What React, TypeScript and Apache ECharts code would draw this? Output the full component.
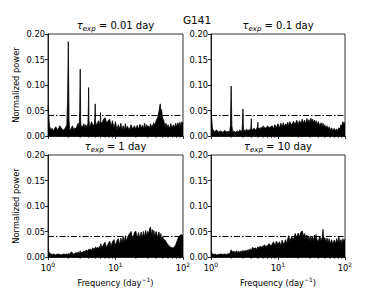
import React, { useEffect, useRef } from "react";
import * as echarts from "echarts";

// Frequency grid (day^-1)
const FREQ = [
  1, 1.05, 1.1, 1.15, 1.2, 1.3, 1.4, 1.5, 1.6, 1.7,
  1.8, 1.9, 1.95, 2, 2.05, 2.1, 2.2, 2.3, 2.4, 2.5,
  2.6, 2.7, 2.8, 2.9, 2.95, 3, 3.05, 3.1, 3.2, 3.3,
  3.4, 3.5, 3.6, 3.7, 3.8, 3.9, 3.95, 4, 4.05, 4.1,
  4.2, 4.4, 4.6, 4.8, 4.95, 5, 5.05, 5.2, 5.4, 5.6,
  5.8, 5.95, 6, 6.05, 6.3, 6.6, 7, 7.4, 7.8, 8.2,
  8.6, 9, 9.5, 10, 10.5, 11, 11.5, 12, 12.5, 13,
  13.5, 14, 14.5, 15, 16, 17, 18, 19, 20, 21,
  22, 23, 24, 25, 26, 27, 28, 29, 30, 31,
  32, 33, 34, 35, 36, 37, 38, 40, 42, 44,
  46, 47, 48, 50, 52, 54, 56, 58, 60, 63,
  66, 69, 72, 75, 78, 81, 84, 87, 90, 93,
  96, 100,
];

// tau_exp = 0.01 day
const P_001 = [
  0.06, 0.02, 0.012, 0.015, 0.01, 0.018, 0.012, 0.02, 0.014, 0.012,
  0.015, 0.022, 0.07, 0.185, 0.03, 0.012, 0.014, 0.02, 0.012, 0.016,
  0.014, 0.02, 0.025, 0.018, 0.05, 0.131, 0.03, 0.015, 0.02, 0.018,
  0.024, 0.016, 0.022, 0.02, 0.018, 0.025, 0.045, 0.095, 0.03, 0.02,
  0.018, 0.028, 0.022, 0.02, 0.035, 0.063, 0.03, 0.02, 0.025, 0.03,
  0.022, 0.03, 0.046, 0.028, 0.025, 0.032, 0.036, 0.025, 0.03, 0.033,
  0.018, 0.03, 0.015, 0.028, 0.012, 0.022, 0.014, 0.025, 0.012, 0.02,
  0.011, 0.024, 0.013, 0.019, 0.012, 0.022, 0.013, 0.02, 0.014, 0.021,
  0.013, 0.023, 0.015, 0.021, 0.014, 0.025, 0.015, 0.022, 0.016, 0.02,
  0.014, 0.024, 0.016, 0.022, 0.018, 0.026, 0.02, 0.03, 0.036, 0.048,
  0.063, 0.045, 0.052, 0.035, 0.03, 0.018, 0.025, 0.015, 0.022, 0.014,
  0.024, 0.015, 0.022, 0.016, 0.025, 0.017, 0.026, 0.018, 0.027, 0.019,
  0.028, 0.024,
];

// tau_exp = 0.1 day
const P_01 = [
  0.05, 0.015, 0.01, 0.008, 0.012, 0.008, 0.01, 0.007, 0.011, 0.008,
  0.009, 0.008, 0.02, 0.098, 0.02, 0.008, 0.01, 0.007, 0.009, 0.01,
  0.008, 0.012, 0.009, 0.01, 0.025, 0.053, 0.015, 0.01, 0.012, 0.009,
  0.014, 0.01, 0.012, 0.011, 0.013, 0.012, 0.02, 0.034, 0.012, 0.011,
  0.013, 0.015, 0.012, 0.014, 0.018, 0.027, 0.014, 0.016, 0.013, 0.017,
  0.015, 0.018, 0.02, 0.016, 0.017, 0.015, 0.02, 0.016, 0.018, 0.02,
  0.014, 0.022, 0.016, 0.024, 0.015, 0.025, 0.017, 0.026, 0.018, 0.024,
  0.02, 0.027, 0.019, 0.028, 0.021, 0.029, 0.022, 0.031, 0.023, 0.03,
  0.024, 0.033, 0.025, 0.031, 0.023, 0.034, 0.026, 0.032, 0.025, 0.035,
  0.027, 0.033, 0.025, 0.031, 0.024, 0.03, 0.022, 0.028, 0.02, 0.026,
  0.018, 0.025, 0.017, 0.022, 0.015, 0.02, 0.013, 0.018, 0.012, 0.016,
  0.01, 0.015, 0.01, 0.014, 0.011, 0.016, 0.014, 0.022, 0.02, 0.028,
  0.024, 0.027,
];

// tau_exp = 1 day
const P_1 = [
  0.015, 0.008, 0.006, 0.005, 0.006, 0.004, 0.006, 0.005, 0.004, 0.006,
  0.005, 0.006, 0.005, 0.007, 0.005, 0.006, 0.01, 0.008, 0.006, 0.007,
  0.009, 0.007, 0.01, 0.008, 0.009, 0.012, 0.009, 0.01, 0.008, 0.011,
  0.01, 0.012, 0.011, 0.014, 0.01, 0.013, 0.012, 0.015, 0.012, 0.013,
  0.016, 0.013, 0.018, 0.015, 0.017, 0.014, 0.02, 0.016, 0.019, 0.017,
  0.021, 0.015, 0.022, 0.026, 0.017, 0.024, 0.029, 0.018, 0.026, 0.031,
  0.02, 0.03, 0.034, 0.022, 0.032, 0.036, 0.024, 0.037, 0.028, 0.04,
  0.028, 0.042, 0.03, 0.038, 0.045, 0.05, 0.034, 0.047, 0.051, 0.036,
  0.048, 0.035, 0.049, 0.037, 0.05, 0.038, 0.052, 0.04, 0.05, 0.045,
  0.055, 0.059, 0.042, 0.054, 0.04, 0.052, 0.041, 0.05, 0.038, 0.049,
  0.036, 0.046, 0.034, 0.04, 0.033, 0.034, 0.03, 0.027, 0.024, 0.021,
  0.019, 0.018, 0.018, 0.02, 0.024, 0.03, 0.036, 0.04, 0.042, 0.044,
  0.043, 0.042,
];

// tau_exp = 10 day
const P_10 = [
  0.011, 0.006, 0.005, 0.006, 0.004, 0.005, 0.006, 0.005, 0.006, 0.005,
  0.006, 0.007, 0.01, 0.014, 0.012, 0.01, 0.011, 0.009, 0.012, 0.01,
  0.011, 0.009, 0.012, 0.01, 0.011, 0.013, 0.01, 0.012, 0.011, 0.013,
  0.012, 0.014, 0.011, 0.015, 0.012, 0.016, 0.014, 0.015, 0.013, 0.017,
  0.019, 0.016, 0.018, 0.015, 0.019, 0.017, 0.02, 0.018, 0.021, 0.019,
  0.02, 0.022, 0.018, 0.021, 0.024, 0.02, 0.023, 0.026, 0.022, 0.025,
  0.03, 0.022, 0.031, 0.024, 0.03, 0.022, 0.033, 0.025, 0.029, 0.034,
  0.026, 0.036, 0.042, 0.03, 0.04, 0.034, 0.046, 0.038, 0.047, 0.04,
  0.049, 0.051, 0.041, 0.046, 0.036, 0.043, 0.034, 0.04, 0.031, 0.041,
  0.032, 0.04, 0.029, 0.043, 0.033, 0.044, 0.035, 0.03, 0.041, 0.031,
  0.04, 0.054, 0.032, 0.038, 0.028, 0.037, 0.027, 0.036, 0.026, 0.034,
  0.025, 0.033, 0.026, 0.036, 0.028, 0.039, 0.027, 0.034, 0.026, 0.036,
  0.03, 0.035,
];

const PANELS = [P_001, P_01, P_1, P_10];
const TAU_LABELS = ["0.01", "0.1", "1", "10"];
const THRESHOLD = 0.043;
const MINOR_TICKS = [2, 3, 4, 5, 6, 7, 8, 9, 20, 30, 40, 50, 60, 70, 80, 90];
const SUPTITLE = "G141";
const Y_NAME = "Normalized power";

const FONT = "DejaVu Sans";

const GRIDS = [
  { left: 48, top: 34, width: 135, height: 102 },
  { left: 211, top: 34, width: 134, height: 102 },
  { left: 48, top: 155, width: 135, height: 102 },
  { left: 211, top: 155, width: 134, height: 102 },
];

export default function App() {
  const ref = useRef<HTMLDivElement>(null);
  useEffect(() => {
    if (!ref.current) return;
    const chart = echarts.init(ref.current, null, { renderer: "svg" });

    const grid = GRIDS.map((g) => ({
      ...g,
      show: true,
      borderColor: "#000",
      borderWidth: 0.8,
      backgroundColor: "transparent",
    }));

    const xAxis = GRIDS.map((_, i) => ({
      type: "log",
      logBase: 10,
      min: 1,
      max: 100,
      gridIndex: i,
      axisLine: { show: true, lineStyle: { color: "#000", width: 0.8 } },
      axisTick: { show: true, length: 3, lineStyle: { color: "#000", width: 0.8 } },
      splitLine: { show: false },
      axisLabel: {
        show: i >= 2,
        showMinLabel: true,
        showMaxLabel: true,
        margin: 4,
        color: "#000",
        fontFamily: FONT,
        formatter: (v: number) => `{b|10}{sup|${Math.round(Math.log10(v))}}`,
        rich: {
          b: { fontSize: 8.3, fontFamily: FONT, color: "#000", lineHeight: 11, verticalAlign: "bottom" },
          sup: { fontSize: 6, fontFamily: FONT, color: "#000", lineHeight: 8, verticalAlign: "top" },
        },
      },
      name: i >= 2 ? "{b|Frequency (day}{sup|−1}{b|)}" : "",
      nameLocation: "middle",
      nameGap: 19,
      nameTextStyle: {
        fontSize: 8.3,
        fontFamily: FONT,
        color: "#000",
        rich: {
          b: { fontSize: 8.3, fontFamily: FONT, color: "#000", lineHeight: 11, verticalAlign: "bottom" },
          sup: { fontSize: 6, fontFamily: FONT, color: "#000", lineHeight: 8, verticalAlign: "top" },
        },
      },
    }));

    const yAxis = GRIDS.map((_, i) => ({
      type: "value",
      min: 0,
      max: 0.2,
      interval: 0.05,
      gridIndex: i,
      axisLine: { show: true, lineStyle: { color: "#000", width: 0.8 } },
      axisTick: { show: true, length: 3, lineStyle: { color: "#000", width: 0.8 } },
      splitLine: { show: false },
      axisLabel: {
        margin: 3,
        fontSize: 8.3,
        fontFamily: FONT,
        color: "#000",
        formatter: (v: number) => v.toFixed(2),
      },
      name: i % 2 === 0 ? Y_NAME : "",
      nameLocation: "middle",
      nameGap: 28,
      nameTextStyle: { fontSize: 8.3, fontFamily: FONT, color: "#000" },
    }));

    const series: any[] = [];
    PANELS.forEach((p, i) => {
      series.push({
        type: "line",
        xAxisIndex: i,
        yAxisIndex: i,
        data: FREQ.map((f, k) => [f, p[k]]),
        symbol: "none",
        lineStyle: { color: "#000", width: 0.8 },
        areaStyle: { color: "#000", opacity: 1 },
        markLine: {
          symbol: "none",
          silent: true,
          label: { show: false },
          lineStyle: { color: "#000", width: 1.2, type: [6, 2, 1.5, 2] },
          data: [{ yAxis: THRESHOLD }],
        },
      });
      series.push({
        type: "custom",
        xAxisIndex: i,
        yAxisIndex: i,
        clip: false,
        silent: true,
        data: MINOR_TICKS.map((v) => [v, 0]),
        renderItem: (_params: any, api: any) => {
          const pt = api.coord([api.value(0), 0]);
          return {
            type: "line",
            shape: { x1: pt[0], y1: pt[1], x2: pt[0], y2: pt[1] + 2 },
            style: { stroke: "#000", lineWidth: 0.6 },
          };
        },
      });
    });

    const titleRich = {
      t: { fontSize: 10, fontFamily: FONT, fontStyle: "italic", fill: "#000", lineHeight: 14, verticalAlign: "middle" },
      sub: { fontSize: 7, fontFamily: FONT, fontStyle: "italic", fill: "#000", lineHeight: 7, verticalAlign: "bottom" },
      n: { fontSize: 10, fontFamily: FONT, fill: "#000", lineHeight: 14, verticalAlign: "middle" },
    };

    const graphic: any[] = [
      {
        type: "text",
        x: 197,
        y: 20,
        style: {
          text: SUPTITLE,
          fontSize: 10.5,
          fontFamily: FONT,
          fill: "#000",
          align: "center",
          verticalAlign: "middle",
        },
      },
    ];
    GRIDS.forEach((g, i) => {
      graphic.push({
        type: "text",
        x: g.left + g.width / 2,
        y: g.top - 9,
        style: {
          text: `{t|τ}{sub|exp}{n| = ${TAU_LABELS[i]} day}`,
          rich: titleRich,
          align: "center",
          verticalAlign: "middle",
          fontFamily: FONT,
          fill: "#000",
        },
      });
    });

    chart.setOption({
      animation: false,
      backgroundColor: "#fff",
      grid,
      xAxis,
      yAxis,
      series,
      graphic,
    });
    return () => chart.dispose();
  }, []);

  return (
    <div
      ref={ref}
      style={{ position: "absolute", left: 0, top: 0, width: 384, height: 288 }}
    />
  );
}
